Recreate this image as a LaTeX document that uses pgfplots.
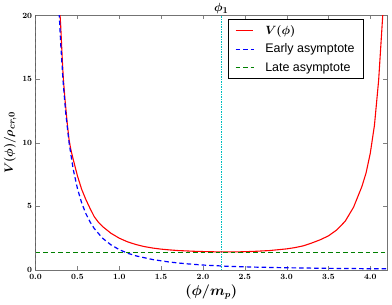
\documentclass[border=0pt]{standalone}
\usepackage{fontspec}
\newfontfamily\lsans{Liberation Sans}
\usepackage{pgfplots}
\pgfplotsset{compat=1.18}
\definecolor{mplred}{RGB}{255,0,0}
\definecolor{mplblue}{RGB}{0,0,255}
\definecolor{mplgreen}{RGB}{0,128,0}
\definecolor{mplcyan}{RGB}{0,191,191}
\DeclareRobustCommand{\bmath}[1]{{\boldmath$#1$}}
\DeclareRobustCommand{\bfmathfont}{\boldmath}
\begin{document}
\begin{tikzpicture}
\begin{axis}[
  name=ax,
  scale only axis,
  width=351.4bp, height=254.5bp,
  xmin=0, xmax=4.2, ymin=0, ymax=20,
  xtick={0,0.5,...,4.0},
  ytick={0,5,10,15,20},
  xticklabel style={/pgf/number format/fixed,/pgf/number format/fixed zerofill,/pgf/number format/precision=1},
  tick align=inside,
  major tick length=4bp,
  minor tick num=0,
  clip mode=individual,
  axis line style={black!55, line width=0.8pt},
  tick label style={font=\bfmathfont\fontsize{8.5}{9}\selectfont},
  xticklabel style={yshift=-0.5bp},
  xlabel={\bmath{(\phi/m_p)}},
  ylabel={\bmath{V(\phi)/\rho_{cr,0}}},
  xlabel style={font=\fontsize{13.5}{15}\selectfont, yshift=1bp},
  ylabel style={font=\fontsize{13}{15}\selectfont, yshift=-1bp},
  legend cell align=left,
  legend style={
    at={(0.9325,0.985)}, anchor=north east,
    inner xsep=6.5bp, inner ysep=4bp,
    row sep=4bp, column sep=9bp,
    font=\lsans\fontsize{12.5}{14}\selectfont,
  },
]
\addplot[draw=mplcyan, line width=1.2pt, dash pattern=on 1.2bp off 1.3bp, forget plot] coordinates {(2.22,0) (2.22,20)};
\addplot[draw=black!75, line width=1.3pt, dash pattern=on 3bp off 3bp, forget plot] coordinates {(0,0) (0,20)};
\addplot[draw=mplred, line width=1.1pt, line join=round] coordinates {
(0.280,21.6) (0.290,20.3) (0.300,19.2) (0.320,16.4) (0.332,15.0) (0.350,13.5)
(0.380,11.4) (0.400,10.25) (0.420,9.5) (0.450,8.68) (0.500,7.4) (0.550,6.35)
(0.600,5.55) (0.650,4.85) (0.700,4.2) (0.750,3.76) (0.800,3.42) (0.900,2.89)
(1.000,2.50) (1.100,2.21) (1.200,2.00) (1.300,1.84) (1.400,1.725) (1.500,1.64)
(1.600,1.58) (1.700,1.53) (1.800,1.50) (1.900,1.47) (2.000,1.45) (2.200,1.42)
(2.400,1.42) (2.600,1.46) (2.800,1.53) (3.000,1.66) (3.100,1.76) (3.200,1.90)
(3.300,2.12) (3.400,2.37) (3.500,2.68) (3.600,3.15) (3.700,3.83) (3.800,4.93)
(3.900,6.56) (3.950,7.63) (4.000,9.17) (4.050,11.37) (4.100,14.9) (4.150,20.1)
(4.170,22.9)
};
\addlegendentry{\bmath{V(\phi)}}
\addplot[draw=mplblue, line width=1.2pt, dash pattern=on 4.5bp off 3bp,
  legend image code/.code={\draw[mplblue, line width=1.2pt, solid] (0bp,0bp) -- (4.5bp,0bp) (7.5bp,0bp) -- (12bp,0bp) (15bp,0bp) -- (18bp,0bp);}] coordinates {
(0.270,21.95) (0.280,20.41) (0.300,17.78) (0.330,14.69) (0.360,12.35) (0.400,10.0)
(0.450,7.90) (0.500,6.40) (0.550,5.29) (0.600,4.44) (0.650,3.79) (0.700,3.27)
(0.800,2.50) (0.900,1.98) (1.000,1.60) (1.100,1.32) (1.200,1.11) (1.400,0.82)
(1.600,0.625) (1.800,0.49) (2.000,0.39) (2.300,0.29) (2.600,0.23) (3.000,0.175)
(3.500,0.13) (4.000,0.10) (4.200,0.09)
};
\addlegendentry{Early asymptote}
\addplot[draw=mplgreen, line width=1.1pt, dash pattern=on 4.5bp off 3bp,
  legend image code/.code={\draw[mplgreen, line width=1.1pt, solid] (0bp,0bp) -- (4.5bp,0bp) (7.5bp,0bp) -- (12bp,0bp) (15bp,0bp) -- (18bp,0bp);}] coordinates {
(0,1.4) (4.2,1.4)
};
\addlegendentry{Late asymptote}
\node[anchor=south, font=\fontsize{13}{14}\selectfont, inner sep=1.5bp] at (axis cs:2.22,20) {\bmath{\phi_1}};
\end{axis}
\pgfresetboundingbox
\path[use as bounding box] ([shift={(-35.6bp,-35bp)}]ax.south west) rectangle ([shift={(5bp,15.5bp)}]ax.north east);
\end{tikzpicture}
\end{document}
